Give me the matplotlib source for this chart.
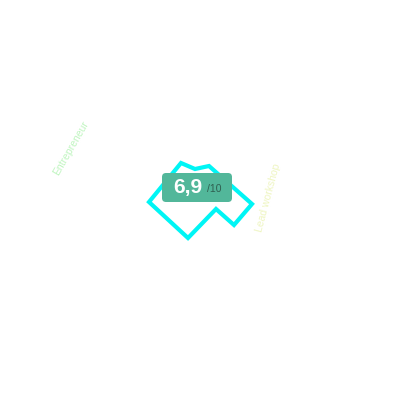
import matplotlib.pyplot as plt
from matplotlib.patches import FancyBboxPatch

plt.rcParams['font.family'] = ['Liberation Sans', 'DejaVu Sans']

# polygon outline (pixel-like coordinates)
shape_x = [181, 195, 209, 252, 234, 216, 188, 149]
shape_y = [163, 169, 166, 204, 225, 209, 238, 202]

labels = ["Entrepreneur", "Lead workshop"]
label_x = [71, 268]
label_y = [148, 198]
label_rot = [60, 75]
label_col = ["#bff5bf", "#eef5c0"]

score = "6,9"
score_max = "/10"

fig = plt.figure(figsize=(4, 4), dpi=100)
ax = fig.add_axes([0, 0, 1, 1])
ax.set_xlim(0, 400)
ax.set_ylim(400, 0)
ax.axis('off')

ax.fill(shape_x, shape_y, facecolor='none', edgecolor='#00f5f5', lw=3, joinstyle='miter')

for t, x, y, r, c in zip(labels, label_x, label_y, label_rot, label_col):
    ax.text(x, y, t, rotation=r, color=c, fontsize=7.5, ha='center', va='center',
            rotation_mode='anchor')

box = FancyBboxPatch((162, 173), 70, 29, boxstyle="round,pad=0,rounding_size=4",
                     facecolor='#52b79a', edgecolor='none')
ax.add_patch(box)
ax.text(188, 188, score, color='white', fontsize=15, fontweight='bold', ha='center', va='center')
ax.text(207, 189, score_max, color='#2f5f50', fontsize=7.5, ha='left', va='center')

fig.savefig('out.png')
